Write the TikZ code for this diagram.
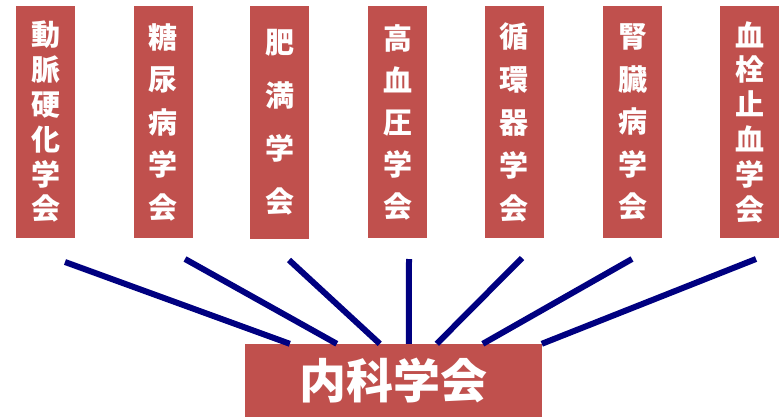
\documentclass[tikz,border=0pt]{standalone}
\usepackage{fontspec}
\newfontfamily\jpfont{Noto Sans CJK JP}
\definecolor{boxred}{RGB}{192,80,77}
\definecolor{linknavy}{RGB}{0,0,128}

\begin{document}
\begin{tikzpicture}[x=1pt,y=-1pt,
    society/.style={fill=boxred, text=white, align=center, inner sep=0pt,
        minimum width=59pt, minimum height=232pt,
        font={\jpfont\bfseries\fontsize{29}{#1}\selectfont}},
    link/.style={draw=linknavy, line width=6pt}]
    \useasboundingbox (0,0) rectangle (783,417);

    \node[society=34.8] (doumyaku) at (45.5,122)  {動\\脈\\硬\\化\\学\\会};
    \node[society=42.5] (tounyou)  at (163,122)   {糖\\尿\\病\\学\\会};
    \node[society=53]   (himan)    at (279.5,122.5) {肥\\満\\学\\会};
    \node[society=42]   (kouketsu) at (397.5,122) {高\\血\\圧\\学\\会};
    \node[society=43]   (junkan)   at (514,122)   {循\\環\\器\\学\\会};
    \node[society=42.5] (jinzou)   at (632.5,122) {腎\\臓\\病\\学\\会};
    \node[society=34.8] (kessen)   at (749.5,122) {血\\栓\\止\\血\\学\\会};

    \node[fill=boxred, text=white, inner sep=0pt,
        minimum width=297pt, minimum height=73pt,
        font={\jpfont\bfseries\fontsize{47}{50}\selectfont}] (naika) at (393.5,380.5) {内科学会};

    % spokes into the main society
    \foreach \i/\tx/\ty/\d in {1/65/262/45, 2/185/259/92, 3/289/260/135, 4/409/259/164,
                               5/522/258/192, 6/632/259/238, 7/756/259/297} {
        \coordinate (top\i) at (\tx,\ty);
        \draw[link] (top\i) -- ([xshift=\d pt]naika.north west);
    }
\end{tikzpicture}
\end{document}
